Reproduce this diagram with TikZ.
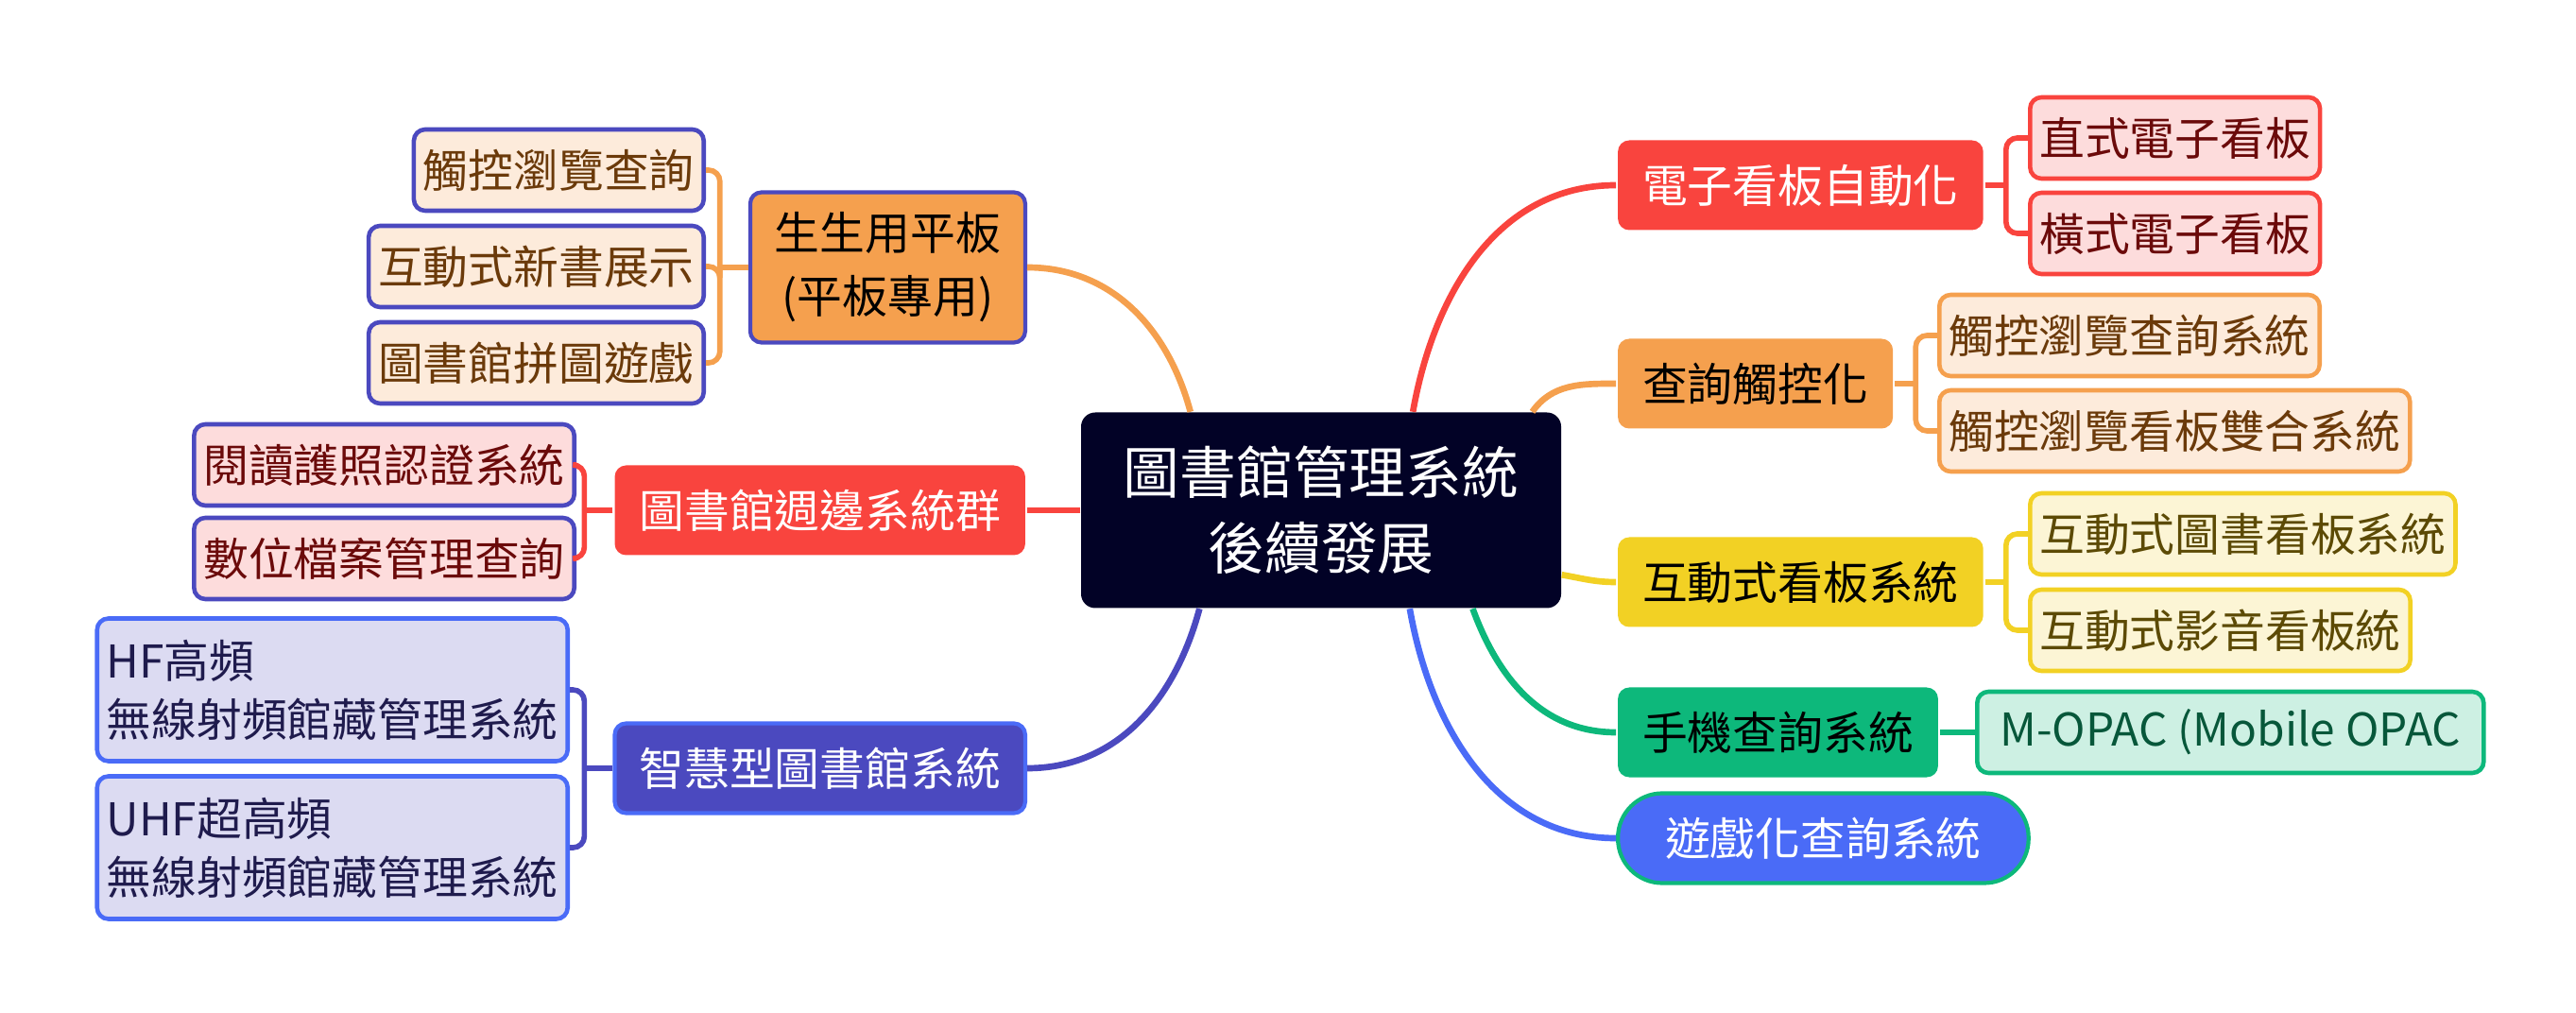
\documentclass[tikz,border=0pt]{standalone}
\usepackage{fontspec}
\setmainfont{Noto Sans CJK TC}
\definecolor{navy}{HTML}{020226}
\definecolor{tomato}{HTML}{F9443E}
\definecolor{apricot}{HTML}{F5A04E}
\definecolor{mustard}{HTML}{F2D124}
\definecolor{jade}{HTML}{0DB87B}
\definecolor{royal}{HTML}{4A6BF7}
\definecolor{indigo}{HTML}{4B49BF}
\definecolor{pinkbg}{HTML}{FDDCDC}
\definecolor{peachbg}{HTML}{FDEBDB}
\definecolor{creambg}{HTML}{FCF5D5}
\definecolor{mintbg}{HTML}{CDF0E3}
\definecolor{lilacbg}{HTML}{DCDBF2}
\definecolor{redtxt}{HTML}{6B0A0A}
\definecolor{browntxt}{HTML}{6B3A0A}
\definecolor{olivetxt}{HTML}{5C4A05}
\definecolor{greentxt}{HTML}{07573A}
\definecolor{navytxt}{HTML}{1F1B4D}

\begin{document}
\begin{tikzpicture}[
    root/.style={fill=navy, text=white, rounded corners=0.15cm, minimum width=5.08cm, minimum height=2.07cm, align=center, font=\fontsize{17pt}{22.8pt}\selectfont},
    main/.style={rounded corners=0.12cm, minimum height=0.95cm, inner xsep=0.26cm, line width=1.2pt, font=\fontsize{13.6pt}{19pt}\selectfont},
    leaf/.style={rounded corners=0.12cm, minimum height=0.86cm, inner xsep=0.1cm, line width=1.3pt, font=\fontsize{13.6pt}{17.6pt}\selectfont},
    pinkleaf/.style={leaf, fill=pinkbg, text=redtxt},
    peachleaf/.style={leaf, fill=peachbg, text=browntxt},
    creamleaf/.style={leaf, fill=creambg, text=olivetxt},
    mintleaf/.style={leaf, fill=mintbg, text=greentxt},
    lilacleaf/.style={leaf, fill=lilacbg, text=navytxt},
    link/.style={line width=1.9pt},
    fork/.style={line width=1.6pt, rounded corners=0.12cm},
]
    \useasboundingbox (0,0) rectangle (27.26,-10.72);
% root
    \node[root] (r) at (13.98,-5.40) {圖書館管理系統\\後續發展};
% right branches
    \node[main, fill=tomato, text=white, anchor=west] (e) at (17.10,-1.96) {電子看板自動化};
    \node[main, fill=apricot, anchor=west] (q) at (17.10,-4.06) {查詢觸控化};
    \node[main, fill=mustard, anchor=west] (h) at (17.10,-6.16) {互動式看板系統};
    \node[main, fill=jade, anchor=west] (m) at (17.10,-7.75) {手機查詢系統};
    \node[main, fill=royal, draw=jade, text=white, rounded corners=0.47cm, inner xsep=0.5cm, anchor=west] (g) at (17.10,-8.87) {遊戲化查詢系統};
% left branches
    \node[main, fill=apricot, draw=indigo, minimum height=1.59cm, align=center, anchor=east] (t) at (10.87,-2.83) {生生用平板\\(平板專用)};
    \node[main, fill=tomato, text=white, anchor=east] (p) at (10.87,-5.40) {圖書館週邊系統群};
    \node[main, fill=indigo, draw=royal, text=white, anchor=east] (s) at (10.87,-8.13) {智慧型圖書館系統};
% right leaves
    \foreach \v/\y/\t in {e1/-1.46/直式電子看板, e2/-2.47/橫式電子看板}{
        \node[pinkleaf, draw=tomato, anchor=west] (\v) at (21.46,\y) {\t};
    }
    \foreach \v/\y/\t in {q1/-3.55/觸控瀏覽查詢系統, q2/-4.56/觸控瀏覽看板雙合系統}{
        \node[peachleaf, draw=apricot, anchor=west] (\v) at (20.50,\y) {\t};
    }
    \foreach \v/\y/\t in {h1/-5.65/互動式圖書看板系統, h2/-6.67/互動式影音看板統}{
        \node[creamleaf, draw=mustard, anchor=west] (\v) at (21.46,\y) {\t};
    }
    \node[mintleaf, draw=jade, minimum width=5.36cm, anchor=west] (m1) at (20.90,-7.75) {M-OPAC (Mobile OPAC};
% left leaves
    \foreach \v/\y/\t in {t1/-1.80/觸控瀏覽查詢, t2/-2.82/互動式新書展示, t3/-3.84/圖書館拼圖遊戲}{
        \node[peachleaf, draw=indigo, anchor=east] (\v) at (7.47,\y) {\t};
    }
    \foreach \v/\y/\t in {p1/-4.92/閱讀護照認證系統, p2/-5.91/數位檔案管理查詢}{
        \node[pinkleaf, draw=indigo, anchor=east] (\v) at (6.10,\y) {\t};
    }
    \node[lilacleaf, draw=royal, minimum height=1.51cm, align=left, anchor=east] (s1) at (6.03,-7.30) {HF高頻\\無線射頻館藏管理系統};
    \node[lilacleaf, draw=royal, minimum height=1.51cm, align=left, anchor=east] (s2) at (6.03,-8.97) {UHF超高頻\\無線射頻館藏管理系統};
% links from root
    \draw[link, tomato] (r.47) to[out=80, in=180] (e.west);
    \draw[link, apricot] (r.25) to[out=55, in=180] (q.west);
    \draw[link, mustard] (r.345) to[out=-10, in=180] (h.west);
    \draw[link, jade] (r.327) to[out=-70, in=180] (m.west);
    \draw[link, royal] (r.312) to[out=-80, in=180] (g.west);
    \draw[link, apricot] (r.143) to[out=105, in=0] (t.east);
    \draw[link, tomato] (r.west) -- (p.east);
    \draw[link, indigo] (r.219) to[out=255, in=0] (s.east);
% forks
    \foreach \a/\b/\c in {e/e1/tomato, e/e2/tomato, q/q1/apricot, q/q2/apricot, h/h1/mustard, h/h2/mustard}{
        \draw[fork, color=\c] (\b.west) -| ([xshift=0.22cm]\a.east);
        \draw[fork, color=\c] (\a.east) -- ++(0.22,0);
    }
    \draw[fork, jade] (m.east) -- (m1.west);
    \foreach \a/\b/\c in {t/t1/apricot, t/t2/apricot, t/t3/apricot, p/p1/tomato, p/p2/tomato, s/s1/indigo, s/s2/indigo}{
        \draw[fork, color=\c] (\b.east) -| ([xshift=-0.3cm]\a.west);
        \draw[fork, color=\c] (\a.west) -- ++(-0.3,0);
    }
\end{tikzpicture}
\end{document}
